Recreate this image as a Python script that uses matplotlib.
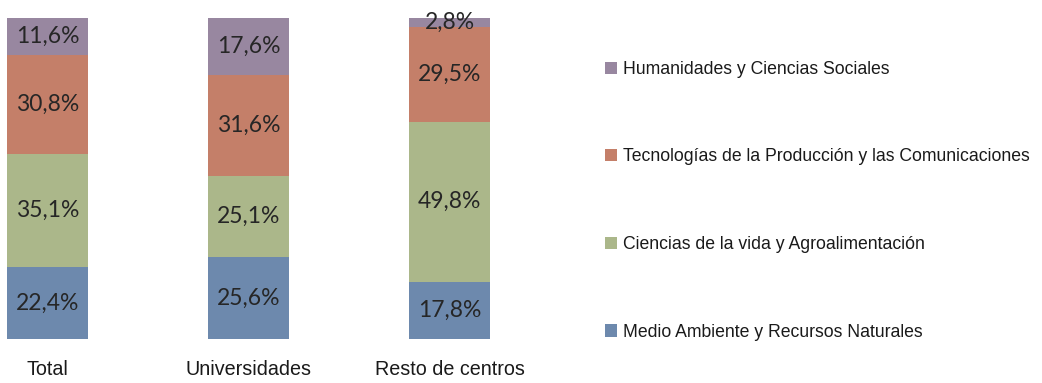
import matplotlib.pyplot as plt
import numpy as np

# Distribucion por area tematica
categorias = ["Total", "Universidades", "Resto de centros"]
areas = ["Medio Ambiente y Recursos Naturales",
         "Ciencias de la vida y Agroalimentación",
         "Tecnologías de la Producción y las Comunicaciones",
         "Humanidades y Ciencias Sociales"]
medio_ambiente = [22.4, 25.6, 17.8]
ciencias_vida = [35.1, 25.1, 49.8]
tecnologias = [30.8, 31.6, 29.5]
humanidades = [11.6, 17.6, 2.8]

colores = ["#6d89ad", "#abb78a", "#c47f69", "#9887a0"]
series = [medio_ambiente, ciencias_vida, tecnologias, humanidades]

fig = plt.figure(figsize=(10.42, 3.83), dpi=100)
W, H = 1042, 383
ax = fig.add_axes([0, 44 / H, 600 / W, 321 / H])

x = np.arange(len(categorias))
abajo = np.zeros(len(categorias))
for vals, col, nombre in zip(series, colores, areas):
    ax.bar(x, vals, width=0.403, bottom=abajo, color=col, label=nombre)
    for xi, v, y0 in zip(x, vals, abajo):
        ax.text(xi, y0 + v / 2, f"{v:.1f}%".replace(".", ","),
                ha="center", va="center", fontsize=16.5, color="#262626",
                family="Lato")
    abajo = abajo + np.array(vals)

ax.set_xlim(-47.5 / 201, (600 - 47.5) / 201)
ax.set_ylim(0, 99.9)
ax.set_xticks(x)
ax.set_xticklabels(categorias, fontsize=14.2, family="Liberation Sans", color="#1a1a1a")
ax.tick_params(axis="x", length=0, pad=15)
ax.set_yticks([])
for s in ax.spines.values():
    s.set_visible(False)

# Leyenda en orden inverso
h, l = ax.get_legend_handles_labels()
fig.legend(h[::-1], l[::-1], loc="upper left", bbox_to_anchor=(589 / W, 1 - 45 / H),
           frameon=False, prop={"family": "Liberation Sans", "size": 12.7},
           handlelength=0.7, handleheight=0.7, handletextpad=0.3,
           labelspacing=4.0, labelcolor="#1a1a1a")

fig.savefig("out.png", dpi=100)
